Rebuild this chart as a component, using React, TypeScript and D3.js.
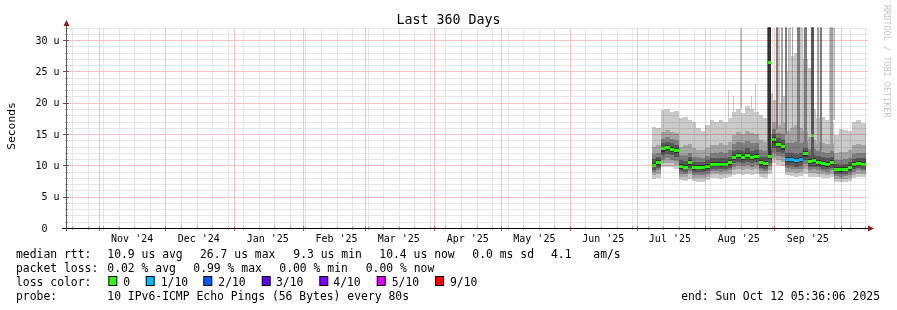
import React from "react";
import * as d3 from "d3";

// ---------- data ----------
const END_TIME = new Date(2025, 9, 12, 5, 36, 6);
const SPAN_DAYS = 360;
const DATA_START = new Date(2025, 6, 7, 22, 0, 0);
const STEP_DAYS = 2;

const yTicks = [0, 5, 10, 15, 20, 25, 30];
const Y_MAX = 32;

// median rtt (µs) per 2-day step
const median = [10.0, 10.4, 12.7, 12.9, 12.6, 12.3, 9.8, 9.7, 10.5, 9.6, 9.7, 9.6, 9.8, 10.2, 10.2, 10.1, 10.2, 10.4, 11.2, 11.5, 11.3, 11.6, 11.2, 11.4, 10.4, 10.3, 11.4, 14.2, 13.4, 13.0, 11.0, 10.9, 10.7, 10.9, 11.9, 10.6, 10.7, 10.5, 10.3, 10.2, 10.4, 9.4, 9.3, 9.4, 9.6, 10.1, 10.3, 10.2, 10.2];
// loss in tenths
const loss = [0, 0, 0, 0, 0, 0, 0, 0, 0, 0, 0, 0, 0, 0, 0, 0, 0, 0, 0, 0, 0, 0, 0, 0, 0, 0, 0, 0, 0, 0, 1, 1, 1, 1, 0, 0, 0, 0, 0, 0, 0, 0, 0, 0, 0, 0, 0, 0, 0];

// smoke: sorted ping pairs (outer -> inner)
const hi1 = [16.1, 16.0, 18.8, 19.0, 18.5, 18.7, 17.6, 17.8, 17.2, 17.0, 16.0, 15.5, 16.5, 17.2, 17.0, 17.3, 17.0, 17.5, 18.5, 19.0, 18.3, 19.5, 19.0, 18.5, 18.0, 17.5, 18.5, 20.5, 20.0, 21.0, 25.0, 27.5, 28.0, 27.5, 27.0, 25.5, 19.0, 17.5, 17.8, 17.2, 17.0, 14.8, 15.8, 15.7, 15.5, 17.0, 17.2, 16.8, 16.8];
const hi2 = [13.0, 13.2, 15.3, 15.6, 15.4, 15.2, 13.0, 13.2, 13.4, 12.8, 12.5, 12.4, 12.8, 13.2, 13.3, 13.5, 13.3, 13.8, 14.8, 15.3, 15.0, 15.5, 15.2, 15.0, 14.0, 13.8, 15.0, 17.0, 16.5, 16.8, 15.5, 16.0, 16.5, 16.0, 15.5, 14.5, 14.0, 13.6, 13.5, 13.4, 13.5, 12.0, 12.2, 12.1, 12.4, 13.2, 13.4, 13.2, 13.2];
const hi3 = [11.8, 12.0, 14.2, 14.5, 14.2, 14.0, 11.6, 11.6, 12.0, 11.4, 11.3, 11.2, 11.5, 12.0, 12.0, 12.1, 12.0, 12.4, 13.4, 13.7, 13.5, 13.9, 13.5, 13.5, 12.5, 12.3, 13.5, 15.8, 15.2, 15.0, 13.5, 13.6, 13.8, 13.6, 13.8, 12.6, 12.6, 12.3, 12.2, 12.0, 12.3, 10.9, 10.9, 11.0, 11.2, 11.8, 12.0, 11.9, 11.9];
const hi4 = [11.0, 11.4, 13.5, 13.8, 13.5, 13.2, 10.8, 10.7, 11.3, 10.6, 10.6, 10.5, 10.8, 11.1, 11.2, 11.1, 11.1, 11.4, 12.3, 12.5, 12.3, 12.7, 12.3, 12.4, 11.4, 11.3, 12.4, 15.0, 14.3, 14.0, 12.0, 12.0, 11.8, 12.0, 12.8, 11.6, 11.7, 11.5, 11.3, 11.2, 11.4, 10.2, 10.1, 10.2, 10.5, 11.0, 11.2, 11.1, 11.1];
const hi5 = [10.4, 10.9, 13.0, 13.3, 13.0, 12.7, 10.2, 10.1, 10.9, 10.0, 10.1, 10.0, 10.2, 10.6, 10.6, 10.5, 10.6, 10.8, 11.6, 11.9, 11.7, 12.0, 11.6, 11.8, 10.8, 10.7, 11.8, 14.6, 13.8, 13.4, 11.4, 11.3, 11.1, 11.3, 12.3, 11.0, 11.1, 10.9, 10.7, 10.6, 10.8, 9.8, 9.7, 9.8, 10.0, 10.5, 10.7, 10.6, 10.6];
const lo5 = [9.7, 10.1, 12.2, 12.5, 12.2, 11.9, 9.5, 9.4, 10.1, 9.3, 9.4, 9.3, 9.5, 9.9, 9.9, 9.8, 9.9, 10.1, 10.8, 11.1, 10.9, 11.2, 10.8, 11.0, 10.0, 9.9, 11.0, 13.6, 12.9, 12.5, 10.6, 10.5, 10.3, 10.5, 11.4, 10.2, 10.3, 10.1, 9.9, 9.8, 10.0, 9.1, 9.0, 9.1, 9.3, 9.8, 10.0, 9.9, 9.9];
const lo4 = [9.3, 9.6, 11.6, 11.8, 11.6, 11.3, 9.1, 9.0, 9.6, 8.9, 8.9, 8.9, 9.1, 9.5, 9.5, 9.4, 9.5, 9.6, 10.3, 10.5, 10.4, 10.6, 10.3, 10.5, 9.6, 9.5, 10.4, 12.8, 12.2, 11.9, 10.1, 10.0, 9.8, 10.0, 10.8, 9.8, 9.8, 9.7, 9.5, 9.4, 9.6, 8.7, 8.6, 8.7, 8.9, 9.4, 9.6, 9.5, 9.5];
const lo3 = [8.9, 9.2, 10.9, 11.1, 10.9, 10.7, 8.7, 8.6, 9.1, 8.5, 8.5, 8.5, 8.7, 9.1, 9.1, 9.0, 9.1, 9.2, 9.8, 10.0, 9.9, 10.1, 9.8, 10.0, 9.2, 9.1, 9.9, 12.0, 11.5, 11.3, 9.6, 9.5, 9.4, 9.5, 10.2, 9.3, 9.4, 9.3, 9.1, 9.0, 9.2, 8.3, 8.2, 8.3, 8.5, 9.0, 9.2, 9.1, 9.1];
const lo2 = [8.4, 8.7, 10.3, 10.4, 10.3, 10.1, 8.2, 8.1, 8.6, 8.0, 8.0, 8.0, 8.2, 8.6, 8.6, 8.5, 8.6, 8.7, 9.2, 9.4, 9.3, 9.5, 9.2, 9.4, 8.7, 8.6, 9.3, 11.2, 10.8, 10.6, 9.0, 8.9, 8.8, 8.9, 9.5, 8.8, 8.8, 8.7, 8.6, 8.5, 8.7, 7.9, 7.8, 7.9, 8.0, 8.5, 8.6, 8.6, 8.6];
const lo1 = [7.8, 8.0, 9.7, 9.8, 9.7, 9.5, 7.6, 7.5, 7.9, 7.5, 7.4, 7.4, 7.6, 8.0, 8.0, 7.9, 8.0, 8.1, 8.5, 8.6, 8.5, 8.7, 8.5, 8.6, 8.1, 8.0, 8.6, 10.3, 10.0, 9.9, 8.4, 8.3, 8.2, 8.3, 8.7, 8.2, 8.2, 8.1, 8.0, 8.0, 8.1, 7.4, 7.3, 7.4, 7.5, 8.0, 8.1, 8.1, 8.1];

// narrow outlier columns (days after DATA_START)
const spikeDay = [34.2, 36.45, 39.8, 44.55, 46.5, 51.6, 52.35, 53.4, 55.8, 56.85, 57.9, 59.85, 61.35, 62.9, 65.4, 66.6, 68.4, 71.55, 74.1, 75.6, 79.8, 80.1];
const spikeSpan = [0.45, 0.45, 0.7, 0.45, 0.5, 0.72, 1.08, 1.2, 0.77, 0.77, 0.9, 0.77, 1.08, 0.72, 1.2, 1.5, 1.2, 1.35, 0.9, 1.03, 2.55, 1.2];
const spikeLevel = [1, 1, 1, 1, 1, 3, 5, 1, 3, 1, 2, 3, 1, 2, 3, 1, 3, 4, 2, 3, 1, 2];
const spikeTop = [22, 21, 33, 21, 23, 33, 33, 21.5, 33, 33, 33, 33, 33, 33, 33, 33, 33, 33, 33, 33, 33, 33];
const spikeMedian = [null, null, null, null, null, null, 26.5, null, null, null, null, null, null, null, null, null, null, 14.7, null, null, null, null];

const lossLabels = ["0", "1/10", "2/10", "3/10", "4/10", "5/10", "9/10"];
const lossColors = ["#26ff00", "#00b8ff", "#0059ff", "#5e00ff", "#7e00ff", "#dd00ff", "#ff0000"];
const lossLevels = [0, 1, 2, 3, 4, 5, 9];
const smokeColors = ["#cacaca", "#a4a4a4", "#7e7e7e", "#585858", "#323232"];

const titleText = "Last 360 Days";
const yLabel = "Seconds";
const rrdText = "RRDTOOL / TOBI OETIKER";
const legendRtt = ["median rtt:", "10.9 us avg", "26.7 us max", "9.3 us min", "10.4 us now", "0.0 ms sd", "4.1", "am/s"];
const legendLoss = ["packet loss:", "0.02 % avg", "0.99 % max", "0.00 % min", "0.00 % now"];
const legendColorTitle = "loss color:";
const legendProbe = ["probe:", "10 IPv6-ICMP Echo Pings (56 Bytes) every 80s"];
const endText = "end: Sun Oct 12 05:36:06 2025";

// ---------- layout ----------
const W = 897, H = 310;
const PL = 66, PR = 866, PB = 228, PT = 27.6;
const FONT = "'DejaVu Sans Mono', monospace";
const DAY = 864e5;
const MINOR_C = "#e2e2e2";
const MAJOR_C = "#f7bcbc";

function lossColor(l: number) {
  let idx = 0;
  lossLevels.forEach((lv, i) => { if (l >= lv) idx = i; });
  return lossColors[idx];
}

export default function App() {
  const start = d3.timeDay.offset(END_TIME, -SPAN_DAYS);
  const x = d3.scaleTime().domain([start, END_TIME]).range([PL, PR]);
  const y = d3.scaleLinear().domain([0, Y_MAX]).range([PB, PT]);
  const r0 = (v: number) => Math.round(v);
  const px = (v: number) => Math.round(v) + 0.5;

  const los = [lo1, lo2, lo3, lo4, lo5];
  const his = [hi1, hi2, hi3, hi4, hi5];
  type Row = { t: Date; i: number };
  const rows: Row[] = median.map((_, i) => ({ t: new Date(+DATA_START + i * STEP_DAYS * DAY), i }));
  const n = median.length;
  const rowsExt: Row[] = [...rows, { t: new Date(+DATA_START + n * STEP_DAYS * DAY), i: n - 1 }];

  const spikes = spikeDay.map((d, k) => {
    const t0 = new Date(+DATA_START + d * DAY);
    const t1 = new Date(+DATA_START + (d + spikeSpan[k]) * DAY);
    const idx = Math.min(n - 1, Math.floor(d / STEP_DAYS));
    return { x0: x(t0), x1: x(t1), level: spikeLevel[k], top: spikeTop[k], med: spikeMedian[k], idx };
  });

  const weeks = d3.timeSunday.range(start, END_TIME);
  const months = d3.timeMonth.range(d3.timeDay.offset(start, 1), END_TIME);
  const fmt = d3.timeFormat("%b '%y");
  const minorY = d3.range(1, Y_MAX + 1).filter((v) => v % 5 !== 0);
  const majorY = d3.range(5, Y_MAX + 1, 5);
  const gTop = r0(PT);

  const legendRttX = [16, 107.3, 200, 293.3, 379.3, 472.3, 551, 593.3];
  const legendLossX = [16, 107.3, 193.3, 279.3, 365.7];
  const boxX = [108.3, 145.7, 203.3, 261.7, 319.3, 376.7, 435];
  const boxLabelX = [123.3, 160.7, 218.3, 276, 333.3, 391.7, 450];

  return (
    <svg width={W} height={H} style={{ position: "absolute", left: 0, top: 0, background: "#fff" }} fontFamily={FONT}>
      <defs>
        <clipPath id="plotclip">
          <rect x={PL} y={PT} width={PR - PL} height={PB - PT} />
        </clipPath>
      </defs>
      <rect x={0} y={0} width={W} height={H} fill="#fff" />
      <text x={W / 2} y={24} textAnchor="middle" fontSize={13.3} fill="#000">{titleText}</text>
      <text transform={`translate(15,126) rotate(-90)`} textAnchor="middle" fontSize={11.3} fill="#000">{yLabel}</text>
      <text transform={`translate(884,5) rotate(90)`} fontSize={8.5} fill="#c4c4c4">{rrdText}</text>

      {/* smoke */}
      <g clipPath="url(#plotclip)" shapeRendering="crispEdges">
        {smokeColors.map((c, k) => {
          const area = d3.area<Row>()
            .curve(d3.curveStepAfter)
            .x((d) => x(d.t))
            .y0((d) => y(los[k][d.i]))
            .y1((d) => y(his[k][d.i]));
          return (
            <g key={k}>
              <path d={area(rowsExt) || ""} fill={c} />
              {spikes.filter((s) => s.level > k).map((s, j) => (
                <rect key={j} x={s.x0} width={Math.max(1, s.x1 - s.x0)} y={y(Math.min(s.top, Y_MAX + 1))}
                  height={Math.max(0, y(his[k][s.idx]) - y(Math.min(s.top, Y_MAX + 1)))} fill={c} />
              ))}
            </g>
          );
        })}
        {rows.map((r, i) => {
          const x0 = x(r.t);
          const x1 = x(rowsExt[i + 1].t);
          return <rect key={i} x={x0} width={x1 - x0} y={y(median[i]) - 1.5} height={3} fill={lossColor(loss[i])} />;
        })}
        {spikes.filter((s) => s.med != null).map((s, j) => (
          <rect key={j} x={s.x0} width={Math.max(1, s.x1 - s.x0)} y={y(s.med as number) - 1.5} height={3} fill={lossColors[0]} />
        ))}
      </g>

      {/* dotted grid drawn over the data (light, rrdtool style) */}
      <g shapeRendering="crispEdges" opacity={0.9} style={{ mixBlendMode: "multiply" }}>
        {minorY.map((v) => (
          <rect key={"my" + v} x={PL + 1} y={r0(y(v))} width={PR - PL + 1} height={1} fill={MINOR_C} />
        ))}
        {weeks.map((w, i) => (
          <rect key={"wx" + i} x={r0(x(w))} y={gTop} width={1} height={PB - gTop} fill={MINOR_C} />
        ))}
        {majorY.map((v) => (
          <rect key={"My" + v} x={PL + 1} y={r0(y(v))} width={PR - PL + 1} height={1} fill={MAJOR_C} />
        ))}
        {months.map((m, i) => (
          <rect key={"Mx" + i} x={r0(x(m))} y={gTop} width={1} height={PB - gTop} fill={MAJOR_C} />
        ))}
      </g>

      {/* axis ticks */}
      <g shapeRendering="crispEdges">
        {weeks.map((w, i) => (
          <line key={"wt" + i} x1={px(x(w))} x2={px(x(w))} y1={PB - 2} y2={PB + 2} stroke="#aaa" />
        ))}
        {months.map((m, i) => (
          <line key={"mt" + i} x1={px(x(m))} x2={px(x(m))} y1={PB - 2} y2={PB + 3} stroke="#e05050" />
        ))}
        {minorY.map((v) => (
          <line key={"yt" + v} x1={PL - 1} x2={PL + 2} y1={px(y(v))} y2={px(y(v))} stroke="#aaa" />
        ))}
        {yTicks.map((v) => (
          <line key={"Yt" + v} x1={PL - 3} x2={PL + 3} y1={px(y(v))} y2={px(y(v))} stroke="#555" />
        ))}
        <line x1={PL - 4} x2={PR + 3} y1={PB + 0.5} y2={PB + 0.5} stroke="#000" />
        <line x1={PL + 0.5} x2={PL + 0.5} y1={PB + 3} y2={24} stroke="#555" />
      </g>
      <path d={`M${PR + 2},${PB - 2.5} L${PR + 8},${PB + 0.5} L${PR + 2},${PB + 3.5} Z`} fill="#8b1c1c" />
      <path d={`M${PL - 2.5},${26} L${PL + 0.5},${20} L${PL + 3.5},${26} Z`} fill="#8b1c1c" />

      {/* axis labels */}
      {yTicks.map((v) => (
        <text key={"yl" + v} x={v === 0 ? 47.5 : 59.5} y={y(v)} dy="0.36em" textAnchor="end" fontSize={10} fill="#000">
          {v === 0 ? "0" : `${v} u`}
        </text>
      ))}
      {months.map((m, i) => {
        const c = d3.timeDay.offset(m, 15);
        if (c > END_TIME) return null;
        return (
          <text key={"xl" + i} x={x(c)} y={241.5} textAnchor="middle" fontSize={10} fill="#000">{fmt(m)}</text>
        );
      })}

      {/* legend */}
      <g fontSize={11.4} fill="#000" style={{ whiteSpace: "pre" }}>
        {legendRtt.map((s, i) => <text key={"r" + i} x={legendRttX[i]} y={258}>{s}</text>)}
        {legendLoss.map((s, i) => <text key={"l" + i} x={legendLossX[i]} y={272}>{s}</text>)}
        <text x={16} y={286}>{legendColorTitle}</text>
        {lossLabels.map((s, i) => (
          <g key={"c" + i}>
            <rect x={boxX[i] + 0.5} y={276.5} width={8} height={9} fill={lossColors[i]} stroke="#000" strokeWidth={1} />
            <text x={boxLabelX[i]} y={286}>{s}</text>
          </g>
        ))}
        <text x={16} y={300}>{legendProbe[0]}</text>
        <text x={107.3} y={300}>{legendProbe[1]}</text>
        <text x={880} y={300} textAnchor="end">{endText}</text>
      </g>
    </svg>
  );
}
